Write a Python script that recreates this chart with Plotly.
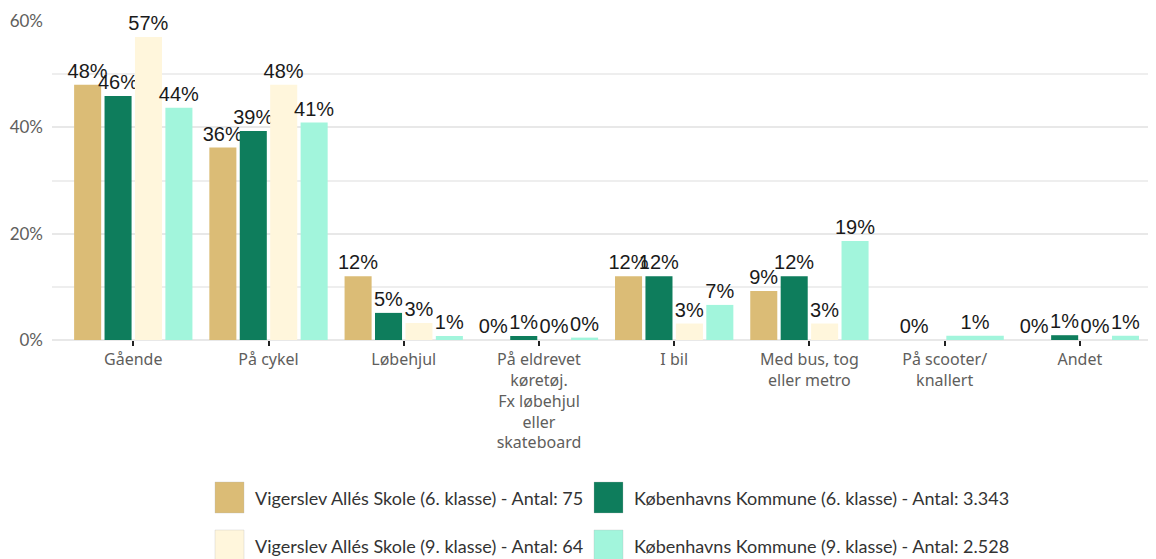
import plotly.graph_objects as go

categories = [
    "Gående",
    "På cykel",
    "Løbehjul",
    "På eldrevet<br>køretøj.<br>Fx løbehjul<br>eller<br>skateboard",
    "I bil",
    "Med bus, tog<br>eller metro",
    "På scooter/<br>knallert",
    "Andet",
]

series_names = [
    "Vigerslev Allés Skole (6. klasse) - Antal: 75",
    "Københavns Kommune (6. klasse) - Antal: 3.343",
    "Vigerslev Allés Skole (9. klasse) - Antal: 64",
    "Københavns Kommune (9. klasse) - Antal: 2.528",
]

vig6 = [48.0, 36.2, 12.0, 0.0, 12.0, 9.2, 0.0, 0.0]
kbh6 = [45.9, 39.3, 5.1, 0.75, 12.0, 12.0, None, 0.9]
vig9 = [57.0, 48.0, 3.2, 0.0, 3.1, 3.1, None, 0.0]
kbh9 = [43.7, 40.9, 0.75, 0.45, 6.6, 18.6, 0.8, 0.8]

values = [vig6, kbh6, vig9, kbh9]
colors = ["#DBBC76", "#0E7D5C", "#FFF6DC", "#A2F5DC"]

# bar geometry (category units)
pitch = 0.225
bw = 0.2
base_off = [-2 * pitch + (pitch - bw) / 2 + k * pitch for k in range(4)]

fig = go.Figure()
for k in range(4):
    offs, wids = [], []
    for i in range(len(categories)):
        o, w = base_off[k], bw
        # in the category where only two series have data, bars are drawn double width
        present = [values[j][i] is not None for j in range(4)]
        if sum(present) == 2 and values[k][i] is not None:
            idx = [j for j in range(4) if present[j]].index(k)
            o = -2 * pitch + (pitch - bw) / 2 + idx * 2 * pitch
            w = 2 * pitch - (pitch - bw)
        offs.append(o)
        wids.append(w)
    fig.add_trace(go.Bar(
        x=categories,
        y=values[k],
        name=series_names[k],
        marker=dict(color=colors[k], line=dict(width=0)),
        offset=offs,
        width=wids,
        texttemplate="%{y:.0f}%",
        textposition="outside",
        textfont=dict(family="Liberation Sans, Arial", size=20, color="#1a1a1a"),
        constraintext="none",
        cliponaxis=False,
        showlegend=False,
    ))

# the page body has an 8px margin; positions below are in screenshot pixels
PAGE = 8
W, H = 1156 - PAGE, 559 - PAGE
L, T, B_px = 52, 21, 340
pw = 1156 - L
ph = B_px - T


def px_x(px):
    return (px - L) / pw


def px_y(py):
    return (B_px - py) / ph


shapes = []
annotations = []
leg_pos = [(215, 482), (594, 482), (215, 530), (594, 530)]
for k, (bx, by) in enumerate(leg_pos):
    shapes.append(dict(
        type="rect", xref="paper", yref="paper",
        x0=px_x(bx), x1=px_x(bx + 29), y0=px_y(by), y1=px_y(by + 31),
        fillcolor=colors[k], line=dict(width=0.6, color="rgba(180,180,180,0.5)"),
    ))
    annotations.append(dict(
        xref="paper", yref="paper", x=px_x(bx + 38), y=px_y(by + 16),
        xanchor="left", yanchor="middle", showarrow=False,
        text=series_names[k],
        font=dict(family="Lato", size=18, color="#333333"),
    ))

fig.update_layout(
    width=W, height=H,
    margin=dict(l=L - PAGE, r=0, t=T - PAGE, b=559 - B_px, pad=0),
    plot_bgcolor="white", paper_bgcolor="white",
    barmode="overlay",
    showlegend=False,
    shapes=shapes,
    annotations=annotations,
    xaxis=dict(
        type="category",
        range=[-0.601, 7.563],
        showgrid=False,
        showline=False,
        ticks="outside", ticklen=5, tickcolor="#222222", tickwidth=1.5,
        tickfont=dict(family="Noto Sans", size=16, color="#605E5C"),
    ),
    yaxis=dict(
        range=[0, 60],
        tickvals=[0, 20, 40, 60],
        ticktext=["0%", "20%", "40%", "60%"],
        showgrid=True, gridcolor="#E8E8E8", gridwidth=1.5,
        minor=dict(dtick=10, showgrid=True, gridcolor="#EEEEEE", gridwidth=1.5),
        zeroline=True, zerolinecolor="#E8E8E8", zerolinewidth=1.5,
        showline=False,
        ticklabelstandoff=8,
        tickfont=dict(family="Lato", size=17, color="#605E5C"),
    ),
)

fig.write_html("out.html")
